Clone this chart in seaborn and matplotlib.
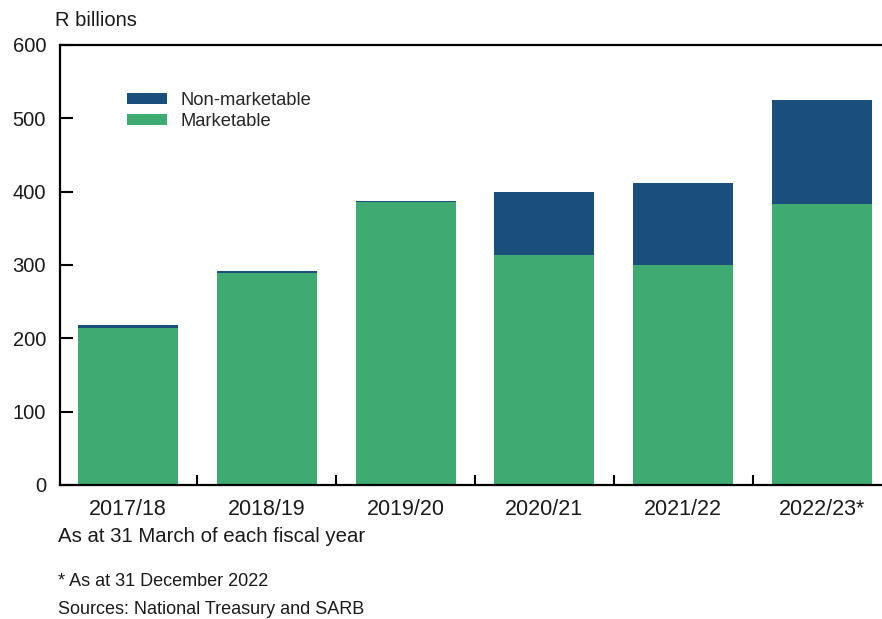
import matplotlib
matplotlib.use("Agg")
import matplotlib.pyplot as plt
import seaborn as sns
import pandas as pd
import numpy as np
from matplotlib.patches import Patch
from matplotlib.ticker import FixedLocator

years = ["2017/18", "2018/19", "2019/20", "2020/21", "2021/22", "2022/23*"]
marketable = [214, 289, 386, 313, 300, 383]
non_marketable = [4, 3, 1.5, 86, 112, 142]
y_ticks = [0, 100, 200, 300, 400, 500, 600]

BLUE = "#1a4f7c"
GREEN = "#3faa72"

sns.set_theme(style="white")
plt.rcParams["font.family"] = ["Liberation Sans", "DejaVu Sans"]

df = pd.DataFrame({"year": years, "marketable": marketable,
                   "total": np.array(marketable) + np.array(non_marketable)})

fig = plt.figure(figsize=(8.82, 6.19), dpi=100)
ax = fig.add_axes([60/882, 1-485/619, 830/882, 440/619])

sns.barplot(data=df, x="year", y="total", color=BLUE, width=0.72,
            saturation=1, ax=ax, linewidth=0)
sns.barplot(data=df, x="year", y="marketable", color=GREEN, width=0.72,
            saturation=1, ax=ax, linewidth=0)

ax.set_xlim(-0.49, 5.49)
ax.set_ylim(0, 600)
ax.set_yticks(y_ticks)
ax.set_xlabel("")
ax.set_ylabel("")

for s in ["left", "bottom", "top"]:
    ax.spines[s].set_visible(True)
    ax.spines[s].set_color("black")
    ax.spines[s].set_linewidth(1.6)
ax.spines["right"].set_visible(False)

ax.tick_params(axis="y", direction="in", length=9.5, width=1.5, color="black",
               labelsize=14.5, pad=10, left=True, labelcolor="#1a1a1a")
ax.tick_params(axis="x", which="major", length=0, labelsize=15.5, pad=10,
               labelcolor="#1a1a1a")
ax.xaxis.set_minor_locator(FixedLocator([0.5, 1.5, 2.5, 3.5, 4.5]))
ax.tick_params(axis="x", which="minor", direction="in", length=7.5, width=1.5,
               color="black", bottom=True)

handles = [Patch(facecolor=BLUE, edgecolor="none", label="Non-marketable"),
           Patch(facecolor=GREEN, edgecolor="none", label="Marketable")]
ax.legend(handles=handles, loc="upper left", bbox_to_anchor=(0.0807, 0.894),
          frameon=False, fontsize=13.2, handlelength=2.2, handleheight=0.55,
          handletextpad=0.72, labelspacing=0.25, borderaxespad=0,
          borderpad=0)

fig.text(55/882, 1-20/619, "R billions", fontsize=14.5, va="center", ha="left",
         color="#1a1a1a")
fig.text(58/882, 1-537/619, "As at 31 March of each fiscal year", fontsize=14.7,
         va="center", ha="left", color="#1a1a1a")
fig.text(58/882, 1-581/619, "* As at 31 December 2022", fontsize=13,
         va="center", ha="left", color="#1a1a1a")
fig.text(58/882, 1-609/619, "Sources: National Treasury and SARB", fontsize=13,
         va="center", ha="left", color="#1a1a1a")

fig.savefig("out.png", dpi=100)
